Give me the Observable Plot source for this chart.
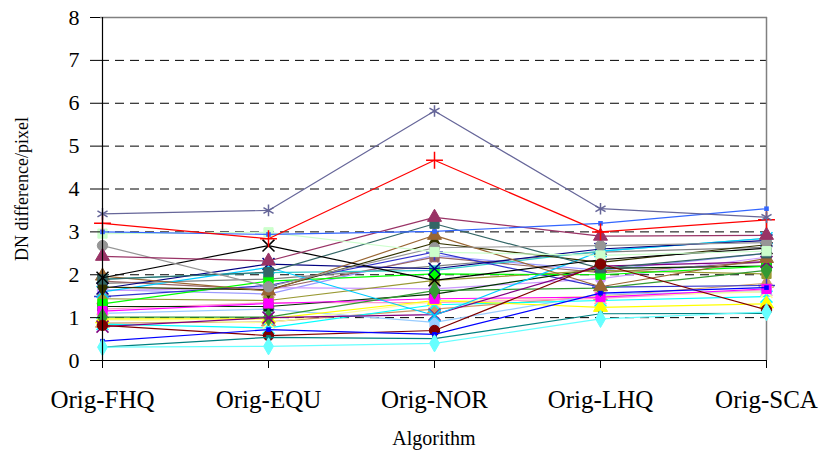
<!DOCTYPE html>
<html>
<head>
<meta charset="utf-8">
<script src="https://cdn.jsdelivr.net/npm/d3@7"></script>
<script src="https://cdn.jsdelivr.net/npm/@observablehq/plot@0.6"></script>
<style>
  html, body { margin: 0; padding: 0; background: #fff; }
  #chart svg { display: block; }
</style>
</head>
<body>
<div id="chart"></div>
<script>
const categories = ["Orig-FHQ", "Orig-EQU", "Orig-NOR", "Orig-LHQ", "Orig-SCA"];
const yTicks = [0, 1, 2, 3, 4, 5, 6, 7, 8];
const gridTicks = [1, 2, 3, 4, 5, 6, 7];
const yLabel = "DN difference/pixel";
const xLabel = "Algorithm";

// one row per series: values at the five algorithms
const seriesValues = [
  [1.80, 1.90, 2.20, 2.53, 2.64],
  [1.65, 1.55, 2.45, 2.10, 2.50],
  [1.85, 1.65, 2.41, 2.05, 2.30],
  [1.90, 2.05, 2.10, 2.55, 2.85],
  [0.87, 0.90, 1.20, 1.50, 1.80],
  [1.20, 1.35, 1.35, 1.45, 1.65],
  [1.10, 1.20, 0.89, 1.55, 1.60],
  [0.85, 0.76, 1.30, 1.40, 1.49],
  [1.63, 1.70, 1.67, 1.91, 2.41],
  [1.49, 1.75, 2.53, 1.71, 1.75],
  [0.95, 0.88, 1.38, 1.50, 1.60],
  [0.97, 0.97, 1.40, 1.24, 1.32],
  [1.26, 1.26, 1.55, 2.15, 2.20],
  [1.44, 1.40, 1.87, 2.10, 2.02],
  [1.32, 1.85, 2.02, 2.00, 2.20],
  [1.15, 1.33, 1.44, 1.48, 1.67],
  [1.01, 1.01, 1.63, 1.69, 2.10],
  [0.79, 1.00, 1.07, 2.20, 2.30],
  [1.60, 2.17, 1.05, 2.55, 2.85],
  [1.68, 2.25, 2.14, 2.60, 2.80],
  [1.71, 1.65, 2.74, 2.29, 2.70],
  [1.97, 1.62, 2.92, 1.72, 2.38],
  [1.89, 2.06, 3.19, 2.15, 2.50],
  [1.93, 2.68, 1.87, 2.35, 2.62],
  [2.68, 1.72, 2.63, 2.68, 2.75],
  [2.43, 2.32, 3.34, 2.90, 2.92],
  [2.96, 2.99, 2.53, 2.45, 2.55],
  [3.00, 2.94, 3.01, 3.20, 3.54],
  [0.82, 0.58, 0.70, 2.25, 1.18],
  [0.45, 0.72, 0.61, 1.57, 1.70],
  [0.31, 0.54, 0.51, 1.09, 1.10],
  [0.31, 0.33, 0.40, 0.97, 1.13],
  [3.20, 2.84, 4.67, 3.00, 3.28],
  [3.42, 3.50, 5.82, 3.54, 3.34]
];

// styles (kept apart from the data)
const seriesColors = [
  "#808080", "#9999FF", "#996666", "#33CCCC", "#CC9966", "#FF99CC", "#99CCFF", "#00FFFF",
  "#CC99FF", "#3333CC", "#FFFF99", "#FFFF00", "#003300", "#999933", "#00FF00", "#FF00FF",
  "#339933", "#800080", "#00CCFF", "#000080", "#333300", "#996633", "#336666", "#000000",
  "#969696", "#993366", "#CCFFCC", "#3366FF", "#800000", "#0000FF", "#008080", "#66FFFF",
  "#FF0000", "#666699"
];
const seriesSymbols = [
  "circle", "asterisk", "square", "square", "triangle", "times", "square", "times",
  "circle", "plus", "times", "triangle", "square", "square", "square", "square",
  "diamond", "times", "times", "times", "diamond", "triangle", "square", "times",
  "circle", "triangle", "square", "dash", "circle", "dash", "dash", "diamond",
  "plus", "asterisk"
];
const seriesFills = seriesColors.map((c, i) => i === 0 ? "#FFFFFF" : c);

const lineSymbols = new Set(["plus", "times", "asterisk"]);
const marks = [];
marks.push(Plot.ruleY(gridTicks, {stroke: "#000", strokeDasharray: "9,6", strokeWidth: 1}));
marks.push(Plot.ruleY([8], {stroke: "#808080", strokeWidth: 1.5}));
marks.push(Plot.ruleX([categories[categories.length - 1]], {stroke: "#808080", strokeWidth: 1.5}));

seriesValues.forEach((vals, i) => {
  const data = categories.map((c, j) => ({cat: c, v: vals[j]}));
  const color = seriesColors[i];
  marks.push(Plot.line(data, {x: "cat", y: "v", stroke: color, strokeWidth: 1.2}));
  const sym = seriesSymbols[i];
  if (sym === "dash") {
    marks.push(Plot.dot(data, {x: "cat", y: "v", symbol: "square", r: 2.6, fill: color, stroke: color, strokeWidth: 0}));
  } else if (lineSymbols.has(sym)) {
    marks.push(Plot.dot(data, {x: "cat", y: "v", symbol: sym, r: 5.5, fill: "none", stroke: color, strokeWidth: 1.5}));
  } else {
    marks.push(Plot.dot(data, {x: "cat", y: "v", symbol: sym, r: 5.2, fill: seriesFills[i], stroke: color, strokeWidth: 1}));
  }
});

marks.push(Plot.ruleX([categories[0]], {stroke: "#000", strokeWidth: 1.2}));
marks.push(Plot.ruleY([0], {stroke: "#000", strokeWidth: 1.2}));
marks.push(Plot.axisY({ticks: yTicks, tickSize: 10, tickPadding: 11, fontSize: 22, label: null, tickFormat: d => String(d)}));
marks.push(Plot.axisX({tickSize: 8, tickPadding: 22, fontSize: 25, label: null}));
marks.push(Plot.text([yLabel], {text: d => d, frameAnchor: "left", dx: -78, rotate: -90, textAnchor: "middle", lineAnchor: "middle", fontSize: 18, fill: "#000"}));
marks.push(Plot.text([xLabel], {text: d => d, frameAnchor: "bottom", dy: 78, textAnchor: "middle", lineAnchor: "middle", fontSize: 20, fill: "#000"}));

const chart = Plot.plot({
  width: 822,
  height: 456,
  marginLeft: 100,
  marginRight: 55,
  marginTop: 17,
  marginBottom: 96,
  style: {fontFamily: "'Liberation Serif', 'Times New Roman', serif", color: "#000", background: "#fff"},
  x: {type: "point", domain: categories, padding: 0},
  y: {domain: [0, 8]},
  marks
});
document.getElementById("chart").appendChild(chart);
</script>
</body>
</html>
